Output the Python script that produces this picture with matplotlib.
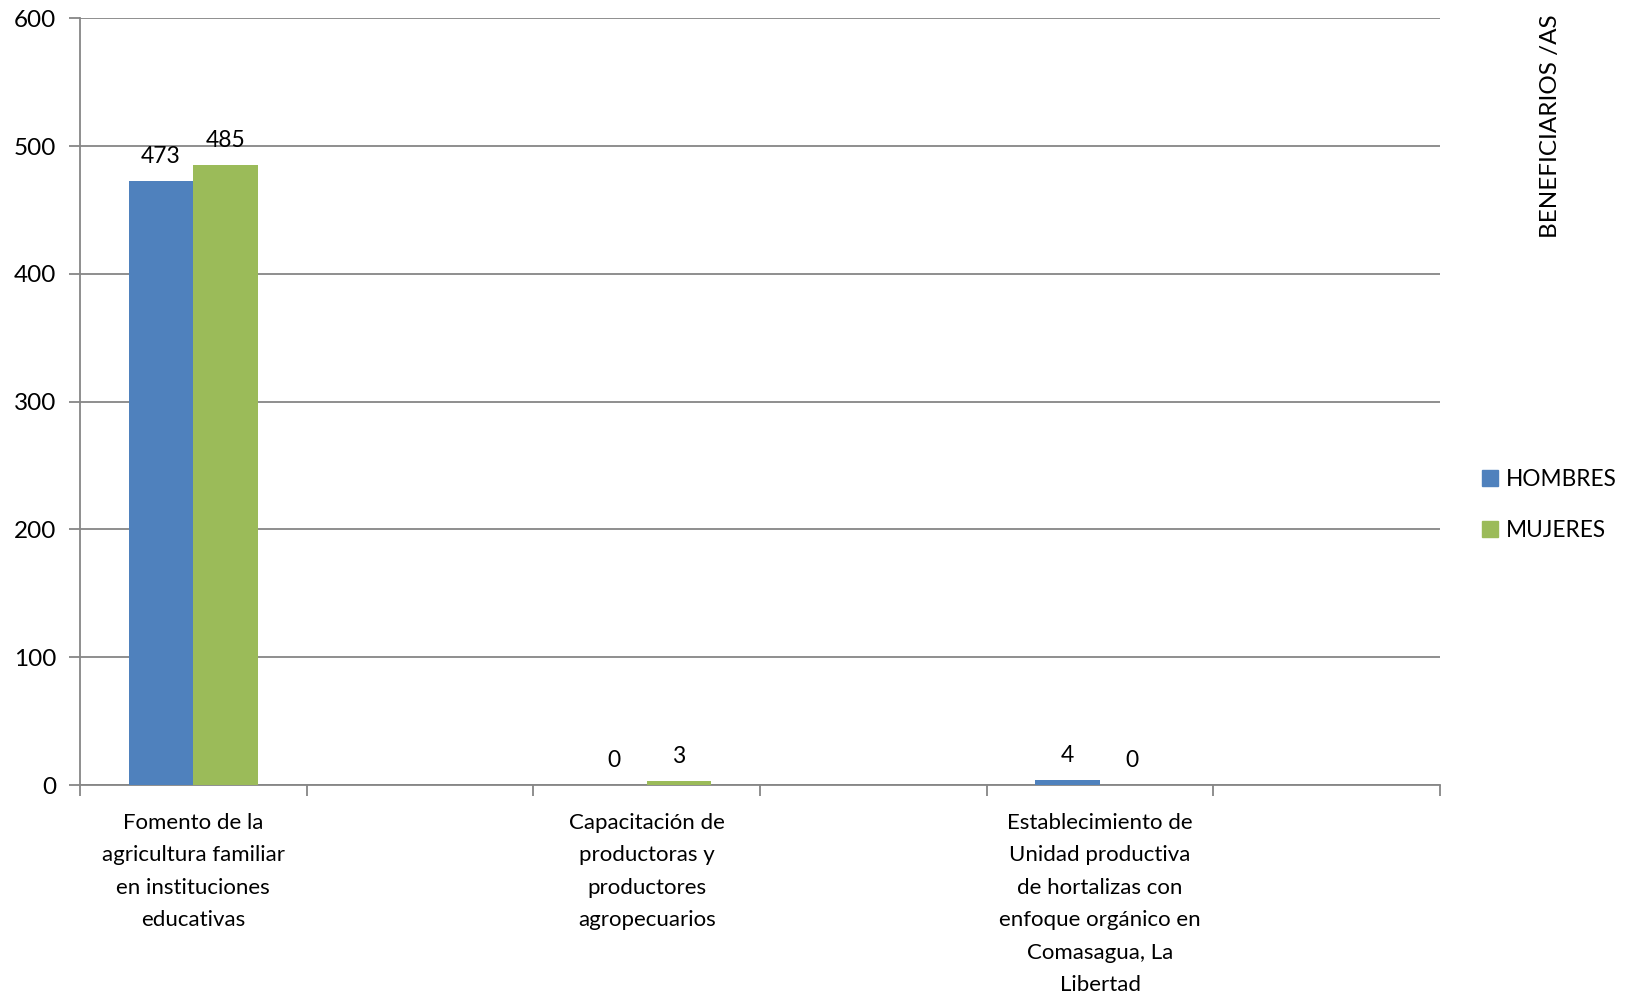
import numpy as np
import matplotlib
matplotlib.use("Agg")
import matplotlib.pyplot as plt
from matplotlib.patches import Patch

plt.rcParams['font.family'] = ['Lato', 'DejaVu Sans']

categories = [
    "Fomento de la\nagricultura familiar\nen instituciones\neducativas",
    "",
    "Capacitación de\nproductoras y\nproductores\nagropecuarios",
    "",
    "Establecimiento de\nUnidad productiva\nde hortalizas con\nenfoque orgánico en\nComasagua, La\nLibertad",
    "",
]
hombres = [473, np.nan, 0, np.nan, 4, np.nan]
mujeres = [485, np.nan, 3, np.nan, 0, np.nan]
series_names = ["HOMBRES", "MUJERES"]
colors = ["#4F81BD", "#9BBB59"]
y_ticks = [0, 100, 200, 300, 400, 500, 600]
title = "BENEFICIARIOS /AS"

fig = plt.figure(figsize=(16.29, 9.97), dpi=100)
ax = fig.add_axes([80/1629, 1-785/997, (1440-80)/1629, (785-18.3)/997])

x = np.arange(len(categories))
w = 1/3.5
grid_c = "#868686"
for i, (vals, c) in enumerate(zip([hombres, mujeres], colors)):
    offs = (i - 0.5) * w
    ax.bar(x + offs, vals, width=w, color=c, zorder=3)
    for xi, v in zip(x, vals):
        if not np.isnan(v):
            ax.annotate(f"{int(v)}", (xi + offs, v), xytext=(0, 10),
                        textcoords="offset points", ha="center", va="bottom",
                        fontsize=16.5, color="black")

ax.set_xlim(-0.5, len(categories) - 0.5)
ax.set_ylim(0, 600)
ax.set_yticks(y_ticks)
ax.yaxis.grid(True, color=grid_c, linewidth=1.3, zorder=0)
ax.set_axisbelow(True)

ax.set_xticks(np.arange(-0.5, len(categories)), [""] * (len(categories) + 1))
ax.set_xticks(x, categories, minor=True)
ax.tick_params(axis="x", which="major", length=8, color=grid_c, width=1.3, direction="out")
ax.tick_params(axis="x", which="minor", length=0, pad=20, labelsize=16)
for lab in ax.get_xticklabels(minor=True):
    lab.set_linespacing(1.78)
ax.tick_params(axis="y", length=8, color=grid_c, width=1.3, direction="out", pad=9, labelsize=17.5)

for s in ["top", "right"]:
    ax.spines[s].set_visible(False)
for s in ["left", "bottom"]:
    ax.spines[s].set_color(grid_c)
    ax.spines[s].set_linewidth(1.3)

fig.text(1551/1629, 1-14/997, title, rotation=90, ha="center", va="top", fontsize=17.5)

handles = [Patch(color=c, label=n) for c, n in zip(colors, series_names)]
fig.legend(handles=handles, loc="center left", bbox_to_anchor=(1473/1629, 1-505/997),
           frameon=False, fontsize=16.3, handlelength=0.7, handleheight=0.7,
           handletextpad=0.35, labelspacing=1.3, borderaxespad=0)

fig.savefig("out.png", dpi=100)
